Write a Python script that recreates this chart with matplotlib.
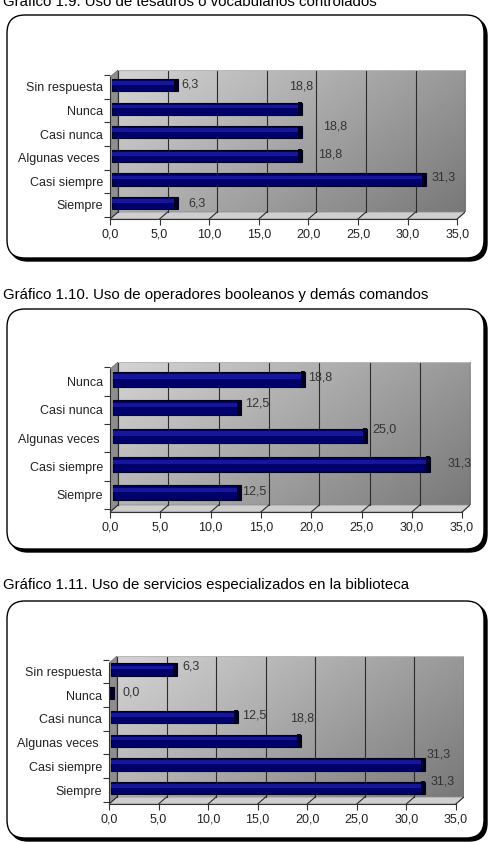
import numpy as np
import matplotlib.pyplot as plt
from matplotlib.patches import FancyBboxPatch, Polygon
from matplotlib.transforms import Affine2D

plt.rcParams['font.family'] = ['Liberation Sans', 'DejaVu Sans']

W, H = 492, 842

# ---- data ----
titulos = ["Gráfico 1.9. Uso de tesauros o vocabularios controlados",
           "Gráfico 1.10. Uso de operadores booleanos y demás comandos",
           "Gráfico 1.11. Uso de servicios especializados en la biblioteca"]

cat_19 = ["Siempre", "Casi siempre", "Algunas veces ", "Casi nunca", "Nunca", "Sin respuesta"]
val_19 = [6.3, 31.3, 18.8, 18.8, 18.8, 6.3]

cat_110 = ["Siempre", "Casi siempre", "Algunas veces ", "Casi nunca", "Nunca"]
val_110 = [12.5, 31.3, 25.0, 12.5, 18.8]

cat_111 = ["Siempre", "Casi siempre", "Algunas veces ", "Casi nunca", "Nunca", "Sin respuesta"]
val_111 = [31.3, 31.3, 18.8, 12.5, 0.0, 6.3]

x_ticks = [0, 5, 10, 15, 20, 25, 30, 35]

# ---- layout (pixels, y from top) ----
# px0, px per unit, y of first category, px per category, floor y, wall top y
panels = [
    dict(px0=110, pxs=9.92, cy0=205, cys=23.6, floor=219, top=70,
         box=(7, 15, 484, 258), title_y=2,
         offs=[(10, 0), (6, 2), (16, 1), (21, 6), (-13, 22), (3, 1)]),
    dict(px0=110, pxs=10.06, cy0=495, cys=28.4, floor=512, top=362,
         box=(7, 309, 484, 549), title_y=295,
         offs=[(1, 1), (17, 1), (5, 6), (4, 4), (3, 2)]),
    dict(px0=109, pxs=9.91, cy0=790, cys=23.7, floor=804, top=656,
         box=(7, 601, 484, 838), title_y=585,
         offs=[(6, 7), (2, 10), (-11, 22), (4, 2), (8, 1), (5, 3)]),
]
datos = [(cat_19, val_19), (cat_110, val_110), (cat_111, val_111)]

DX, DY = 8, 7  # depth of the fake 3D box, pixels

fig = plt.figure(figsize=(W / 100, H / 100), dpi=100)
fig.patch.set_facecolor('white')
px = Affine2D().scale(1 / W, -1 / H).translate(0, 1) + fig.transFigure

for p, titulo, (cats, vals) in zip(panels, titulos, datos):
    # rounded frame with shadow
    x0, y0, x1, y1 = p['box']
    shadow = FancyBboxPatch((x0 + 3, y0 + 3), x1 - x0, y1 - y0,
                            boxstyle="round,pad=0,rounding_size=18",
                            transform=px, facecolor='black', edgecolor='black',
                            zorder=-2)
    frame = FancyBboxPatch((x0, y0), x1 - x0, y1 - y0,
                           boxstyle="round,pad=0,rounding_size=18",
                           transform=px, facecolor='white', edgecolor='black',
                           linewidth=1.0, zorder=-1)
    fig.patches.extend([shadow, frame])
    fig.text(3 / W, 1 - p['title_y'] / H, titulo, fontsize=10.8, va='center',
             ha='left', color='black')

    n = len(cats)
    pxs, cys = p['pxs'], p['cys']
    dx = DX / pxs
    dy = DY / cys
    yf = -(p['floor'] - p['cy0']) / cys
    yt = (p['cy0'] - p['top']) / cys
    xr = 35 + dx

    left = p['px0']
    width = 35 * pxs + DX
    ax = fig.add_axes([left / W, 1 - p['floor'] / H, width / W,
                       (p['floor'] - p['top']) / H])
    ax.set_facecolor('none')
    ax.set_xlim(0, xr)
    ax.set_ylim(yf, yt)

    # back wall gradient
    gx = np.linspace(0, 1, 200)
    gy = np.linspace(0, 1, 100)
    GX, GY = np.meshgrid(gx, gy)
    shade = 0.83 - 0.36 * (0.65 * GX + 0.35 * GY)
    ax.imshow(shade, cmap='gray', vmin=0, vmax=1, aspect='auto',
              extent=(dx, xr, yf + dy, yt), origin='upper', zorder=0,
              interpolation='bilinear')
    # side wall and floor
    ax.add_patch(Polygon([(0, yf), (dx, yf + dy), (dx, yt), (0, yt - dy)],
                         closed=True, facecolor='#8e8e8e', edgecolor='#6a6a6a',
                         linewidth=0.5, zorder=0.5))
    ax.add_patch(Polygon([(0, yf), (35, yf), (xr, yf + dy), (dx, yf + dy)],
                         closed=True, facecolor='#cfcfcf', edgecolor='#8a8a8a',
                         linewidth=0.5, zorder=0.5))
    for t in x_ticks:
        ax.plot([t + dx, t + dx], [yf + dy, yt], color='#2b2b2b', lw=0.8, zorder=1)
        ax.plot([t, t + dx], [yf, yf + dy], color='#2b2b2b', lw=0.8, zorder=1)
    ax.plot([dx, xr], [yt, yt], color='#b8b8b8', lw=0.8, zorder=1)

    # bars
    y = np.arange(n) + 0.08
    v = np.array(vals)
    ax.barh(y, v + 0.3, left=0.25, height=0.52, color='#00006a',
            edgecolor='#00001e', linewidth=0.8, zorder=2)
    ax.barh(y + 0.09, v + 0.3, left=0.25, height=0.15, color='#16169a',
            linewidth=0, zorder=2.1)
    ax.barh(y, np.full(n, 0.4), left=v + 0.15, height=0.56, color='#00001e',
            linewidth=0, zorder=2.2)

    for yi, vi, (ox, oy) in zip(y, v, p['offs']):
        ax.annotate(f"{vi:.1f}".replace('.', ','), (vi + 0.55, yi),
                    xytext=(ox, oy), textcoords='offset pixels',
                    ha='left', va='center', fontsize=9, color='#333333',
                    zorder=3)

    # axes
    for s in ['top', 'right']:
        ax.spines[s].set_visible(False)
    ax.spines['left'].set_bounds(yf, yt - dy)
    ax.spines['bottom'].set_bounds(0, 35)
    for s in ['left', 'bottom']:
        ax.spines[s].set_color('#333333')
        ax.spines[s].set_linewidth(0.8)
        ax.spines[s].set_zorder(3)

    ax.set_xticks(x_ticks)
    ax.set_xticklabels([f"{t:.1f}".replace('.', ',') for t in x_ticks])
    ax.tick_params(axis='x', length=4, width=0.8, color='#333333', pad=3,
                   labelsize=9, labelcolor='#222222')
    ax.set_yticks(np.arange(n))
    ax.set_yticklabels(cats)
    ax.set_yticks(np.arange(n + 1) - 0.5, minor=True)
    ax.tick_params(axis='y', which='major', length=0, pad=5, labelsize=9,
                   labelcolor='#222222')
    ax.tick_params(axis='y', which='minor', length=4, width=0.8, color='#333333')

fig.savefig('out.png', dpi=100)
